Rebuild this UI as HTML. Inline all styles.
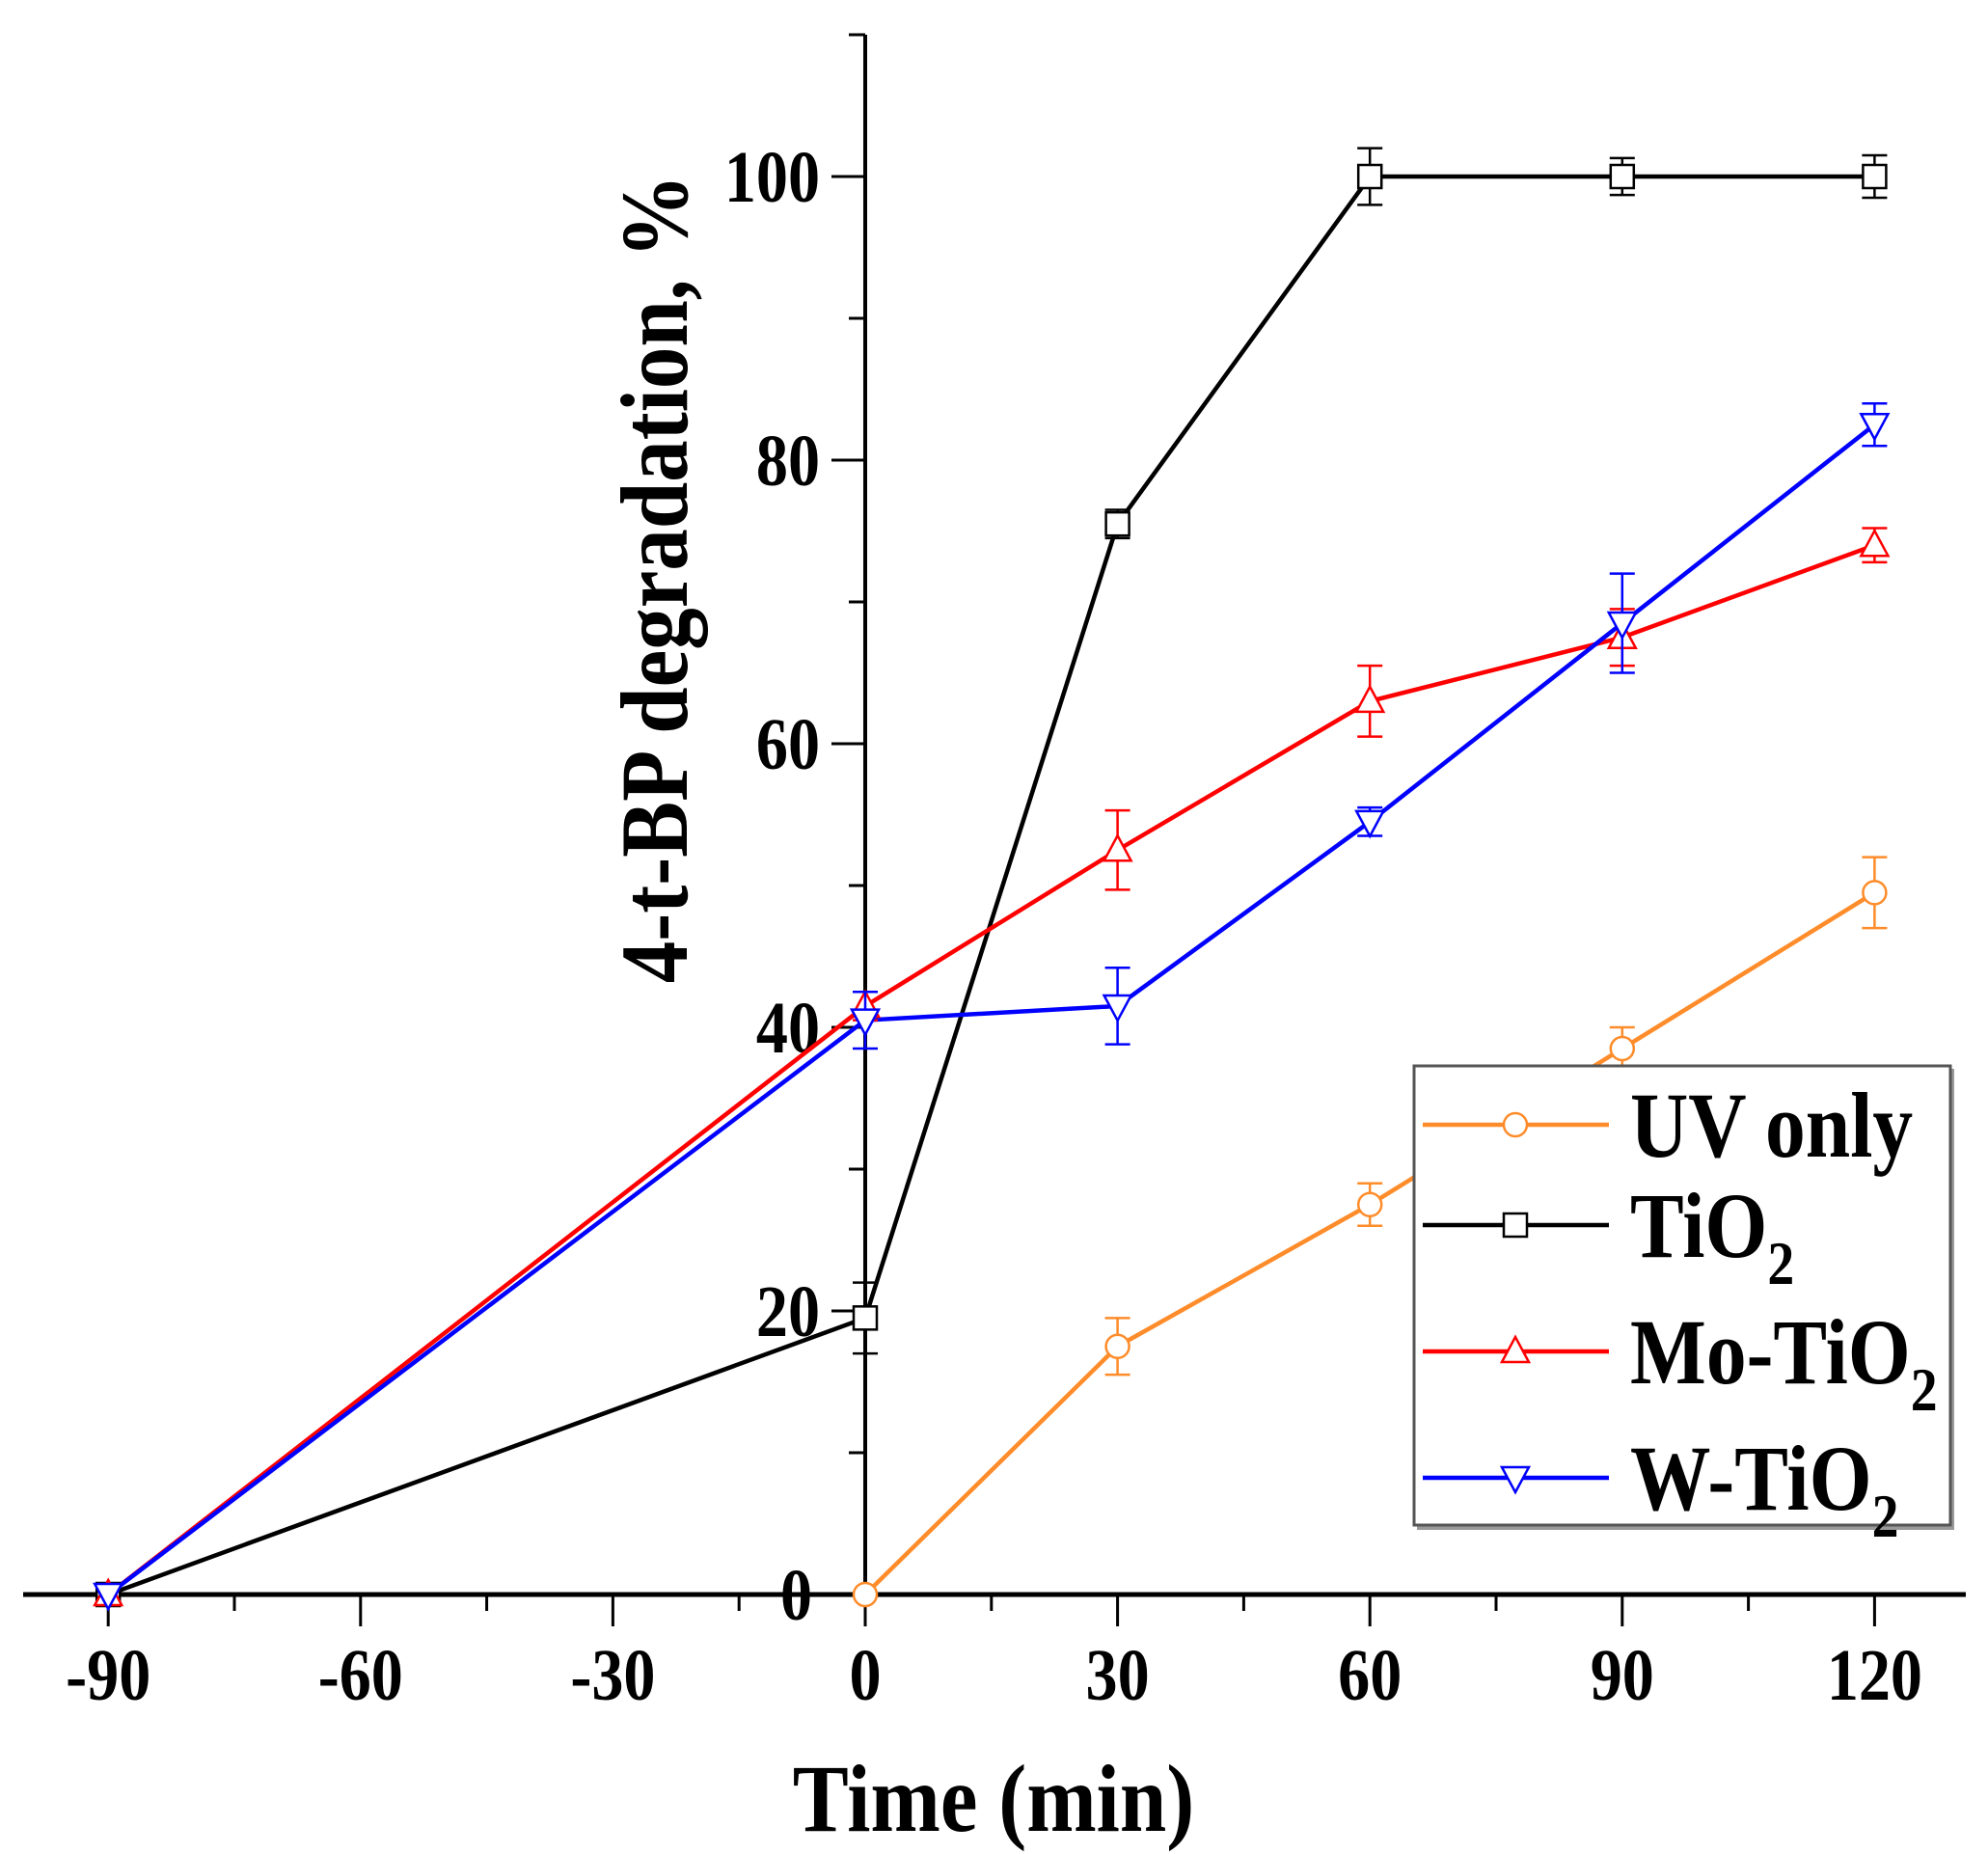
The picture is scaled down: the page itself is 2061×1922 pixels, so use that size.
<!DOCTYPE html>
<html><head><meta charset="utf-8"><style>
html,body{margin:0;padding:0;background:#fff;}
svg{display:block;font-family:"Liberation Serif",serif;font-weight:bold;}
</style></head><body>
<svg id="s" width="2061" height="1922" viewBox="0 0 2061 1922" xmlns="http://www.w3.org/2000/svg"></svg>
<script>
const s=document.getElementById('s');
const X=v=>897+v*8.72, Y=v=>1653-v*14.7;
const T=(x,y,fs,a,t,rot)=>`<text transform="translate(${x},${y})${rot?' rotate(-90)':''} scale(0.87,1)" font-size="${fs}" text-anchor="${a}">${t}</text>`;
let h='';
h+=`<line x1="24" y1="1653" x2="2038" y2="1653" stroke="#000" stroke-width="5"/>`;
h+=`<line x1="897" y1="1653" x2="897" y2="36" stroke="#000" stroke-width="4"/>`;
for(let v=-90;v<=120;v+=15){const maj=v%30==0;h+=`<line x1="${X(v)}" y1="1653" x2="${X(v)}" y2="${maj?1686:1670}" stroke="#000" stroke-width="3"/>`;
 if(maj)h+=T(X(v),1762,76,'middle',v);}
for(let v=0;v<=110;v+=10){const maj=v%20==0;h+=`<line x1="${maj?862:880}" y1="${Y(v)}" x2="897" y2="${Y(v)}" stroke="#000" stroke-width="3"/>`;
 if(maj)h+=T(v==0?842:850,Y(v)+26,76,'end',v);}
h+=T(1030,1898,100,'middle','Time (min)');
h+=T(712,600,100,'middle','4-t-BP degradation, %',1);
const series=[
 {c:'#ff8c2a',m:'o',d:[[0,0,0],[30,17.5,2],[60,27.5,1.5],[90,38.5,1.5],[120,49.5,2.5]]},
 {c:'#000',m:'s',d:[[-90,0,0],[0,19.5,2.5],[30,75.5,1],[60,100,2],[90,100,1.3],[120,100,1.5]]},
 {c:'#ff0000',m:'t',d:[[-90,0,0],[0,41.5,1],[30,52.5,2.8],[60,63,2.5],[90,67.5,2],[120,74,1.2]]},
 {c:'#0000ff',m:'v',d:[[-90,0,0],[0,40.5,2],[30,41.5,2.7],[60,54.5,1],[90,68.5,3.5],[120,82.5,1.5]]}];
function mk(m,x,y,c){
 if(m=='o')return `<circle cx="${x}" cy="${y}" r="12" fill="#fff" stroke="${c}" stroke-width="2.5"/>`;
 if(m=='s')return `<rect x="${x-12}" y="${y-12}" width="24" height="24" fill="#fff" stroke="${c}" stroke-width="2.5"/>`;
 if(m=='t')return `<polygon points="${x},${y-15} ${x-14},${y+11} ${x+14},${y+11}" fill="#fff" stroke="${c}" stroke-width="2.5"/>`;
 return `<polygon points="${x},${y+15} ${x-14},${y-11} ${x+14},${y-11}" fill="#fff" stroke="${c}" stroke-width="2.5"/>`;}
let marks='';
for(const se of series){
 h+=`<polyline fill="none" stroke="${se.c}" stroke-width="4.5" points="${se.d.map(p=>X(p[0])+','+Y(p[1])).join(' ')}"/>`;
 for(const p of se.d){const x=X(p[0]),y=Y(p[1]);
  if(p[2]>0){const y1=Y(p[1]+p[2]),y2=Y(p[1]-p[2]);
   marks+=`<path d="M${x},${y1}V${y2}M${x-13},${y1}H${x+13}M${x-13},${y2}H${x+13}" stroke="${se.c}" stroke-width="2.5" fill="none"/>`;}
  marks+=mk(se.m,x,y,se.c);}
}
h+=marks;
h+=`<rect x="1469" y="1108" width="557" height="478" fill="#999"/>`;
h+=`<rect x="1466" y="1105" width="556" height="476" fill="#fff" stroke="#555" stroke-width="3"/>`;
const L=[['UV only','',1166,0],['TiO','2',1270,1],['Mo-TiO','2',1401,2],['W-TiO','2',1532,3]];
for(const l of L){const se=series[l[3]];
 h+=`<line x1="1475" y1="${l[2]}" x2="1668" y2="${l[2]}" stroke="${se.c}" stroke-width="4.5"/>`+mk(se.m,1571,l[2],se.c);
 h+=T(1690,l[2]+33,96,'start',`${l[0]}${l[1]?`<tspan font-size="64" dy="28">${l[1]}</tspan>`:''}`);}
s.innerHTML=h;
</script>
</body></html>
